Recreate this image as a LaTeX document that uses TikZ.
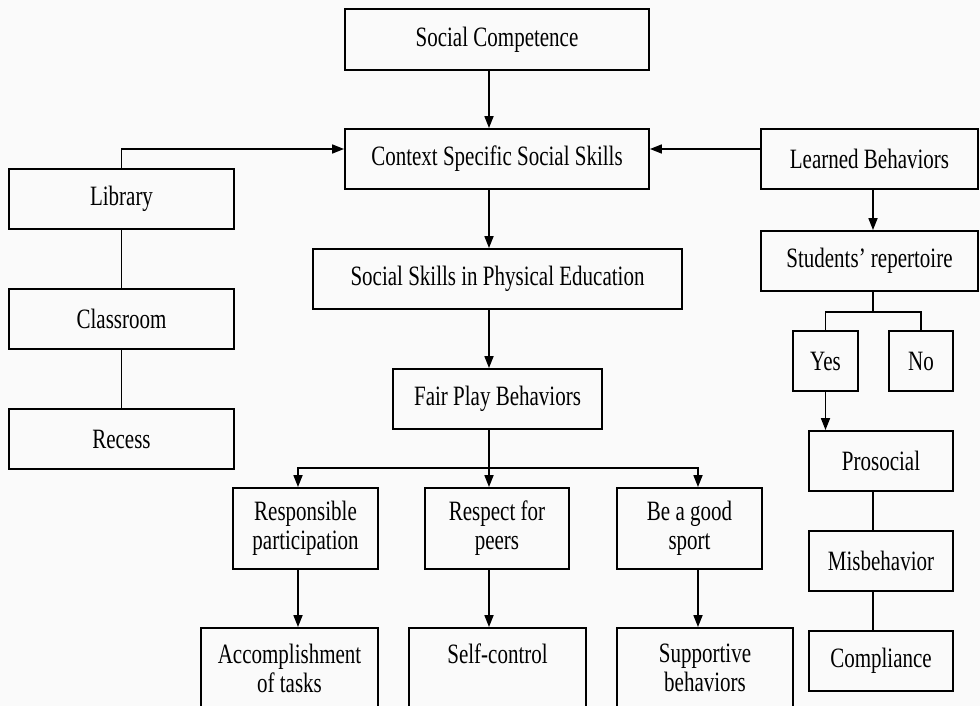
\documentclass[tikz,border=0pt]{standalone}
\usepackage{fontspec}
\setmainfont{Liberation Serif}[FakeStretch=0.75]
\usetikzlibrary{arrows.meta,calc}
\definecolor{bgc}{HTML}{FAFAFA}
\begin{document}
\begin{tikzpicture}[x=1pt,y=-1pt,
  box/.style={draw=black, line width=1.8pt, inner sep=0pt, align=center,
              font=\fontsize{28}{29}\selectfont},
  arr/.style={line width=1.7pt, -{Triangle[length=12pt,width=9pt]}},
  ln/.style={line width=1.7pt}]
\useasboundingbox (0,0) rectangle (980,706);
\fill[bgc] (0,0) rectangle (980,706);
\clip (0,0) rectangle (980,706);

% guide coordinates
\coordinate (spine) at (489,0);
\coordinate (colL) at (298,0);
\coordinate (colR) at (698,0);
\coordinate (bus) at (489,468);
\coordinate (hy) at (0,149);
\coordinate (rx) at (873,0);
\coordinate (ybus) at (873,312);

% central column
\node[box, minimum width=304pt, minimum height=61pt] (sc) at (497,39.5) {Social Competence};
\node[box, minimum width=304pt, minimum height=60pt] (css) at (497,159) {Context Specific Social Skills};
\node[box, minimum width=369pt, minimum height=60pt] (sspe) at (497.5,279) {Social Skills in Physical Education};
\node[box, minimum width=209pt, minimum height=60pt] (fpb) at (497.5,399) {Fair Play Behaviors};

% left column
\node[box, minimum width=225pt, minimum height=60pt] (lib) at (121.5,199) {Library};
\node[box, minimum width=225pt, minimum height=60pt] (cls) at (121.5,319) {Classroom};
\node[box, minimum width=225pt, minimum height=60pt] (rec) at (121.5,439) {Recess};

% right column
\node[box, minimum width=217pt, minimum height=60pt] (lb) at (869.5,159) {Learned Behaviors};
\node[box, minimum width=217pt, minimum height=60pt] (sr) at (869.5,261) {Students’ repertoire};
\node[box, minimum width=65pt, minimum height=60pt] (yes) at (825.5,361) {Yes};
\node[box, minimum width=64pt, minimum height=60pt] (no) at (921,361) {No};
\node[box, minimum width=144pt, minimum height=60pt] (pro) at (881,461) {Prosocial};
\node[box, minimum width=144pt, minimum height=60pt] (mis) at (881,561) {Misbehavior};
\node[box, minimum width=144pt, minimum height=60pt] (com) at (881,661) {Compliance};

% fair play children
\node[box, minimum width=145pt, minimum height=81pt] (rp) at (305.5,528.5) {Responsible\\participation};
\node[box, minimum width=144pt, minimum height=81pt] (rfp) at (497,528.5) {Respect for\\peers};
\node[box, minimum width=145pt, minimum height=81pt] (bgs) at (689.5,528.5) {Be a good\\sport};

% bottom row
\node[box, minimum width=177pt, minimum height=80pt] (acc) at (289.5,668) {Accomplishment\\of tasks};
\node[box, minimum width=177pt, minimum height=80pt] (selfc) at (497.5,668) {Self-control\\\phantom{of tasks}};
\node[box, minimum width=176pt, minimum height=80pt] (sup) at (705,668) {Supportive\\behaviors};

% connectors: central column
\draw[arr] (sc.south -| spine) -- (css.north -| spine);
\draw[arr] (css.south -| spine) -- (sspe.north -| spine);
\draw[arr] (sspe.south -| spine) -- (fpb.north -| spine);
\draw[arr] (fpb.south -| spine) -- (rfp.north -| spine);
\draw[arr] (bus) -| (rp.north -| colL);
\draw[arr] (bus) -| (bgs.north -| colR);
\draw[arr] (rp.south -| colL) -- (acc.north -| colL);
\draw[arr] (rfp.south -| spine) -- (selfc.north -| spine);
\draw[arr] (bgs.south -| colR) -- (sup.north -| colR);

% left column
\draw[arr] (lib.north) |- (css.west |- hy);
\draw[ln] (lib.south) -- (cls.north);
\draw[ln] (cls.south) -- (rec.north);

% right column
\draw[arr] (lb.west |- hy) -- (css.east |- hy);
\draw[arr] (lb.south -| rx) -- (sr.north -| rx);
\draw[ln] (sr.south -| rx) -- (ybus);
\draw[ln] (ybus) -| (yes.north);
\draw[ln] (ybus) -| (no.north);
\draw[arr] (yes.south) -- (pro.north -| yes.south);
\draw[ln] (pro.south -| rx) -- (mis.north -| rx);
\draw[ln] (mis.south -| rx) -- (com.north -| rx);
\end{tikzpicture}
\end{document}
